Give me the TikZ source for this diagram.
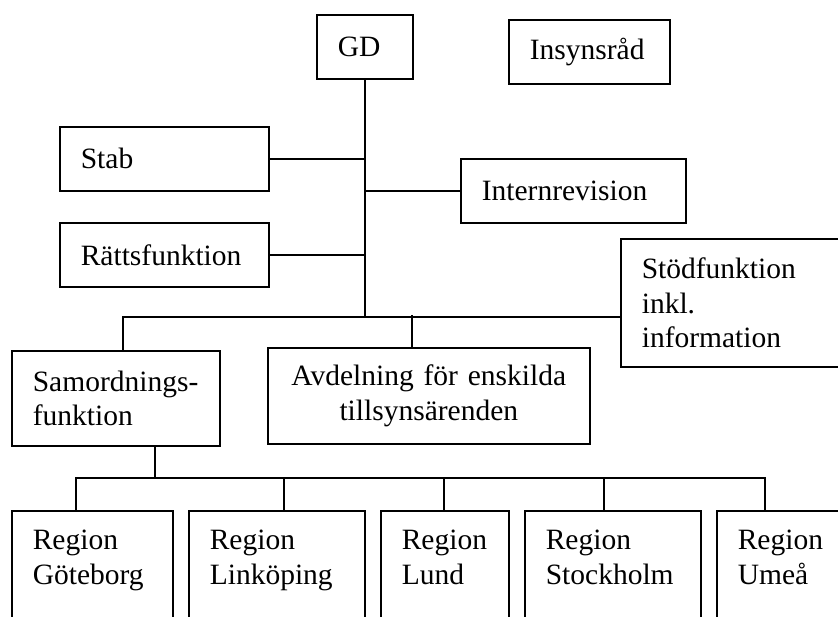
\documentclass[tikz,border=0pt]{standalone}
\usepackage{fontspec}
\setmainfont{Liberation Serif}
\hyphenpenalty=10000
\exhyphenpenalty=10000
\begin{document}
\begin{tikzpicture}[x=1pt,y=-1pt,
  orgbox/.style={draw, line width=1.6pt, rectangle, anchor=north west,
    inner xsep=21pt, inner ysep=0pt, align=left,
    font=\fontsize{29.5}{34.5}\selectfont},
  regbox/.style={orgbox, inner ysep=18pt, text height=21pt, text depth=100pt},
  conn/.style={line width=1.6pt}]
\useasboundingbox (0,0) rectangle (838,617);
\fill[white] (0,0) rectangle (838,617);
\clip (0,0) rectangle (838,617);

\node[orgbox, minimum height=64pt, text width=54pt]  (GD)     at (316,14)  {GD};
\node[orgbox, minimum height=64pt, text width=119pt] (Insyn)  at (508,19)  {Insynsråd};
\node[orgbox, minimum height=64pt, text width=167pt] (Stab)   at (59,126)  {Stab};
\node[orgbox, minimum height=64pt, text width=167pt] (Ratt)   at (59,222)  {Rättsfunktion};
\node[orgbox, minimum height=64pt, text width=183pt] (Intern) at (460,158) {Internrevision};
\node[orgbox, minimum height=128pt, text width=198pt] (Stod)  at (620,238) {Stödfunktion\\inkl.\\information};
\node[orgbox, minimum height=95pt, text width=166pt] (Samord) at (11,350)  {Samordnings-\\funktion};
\node[orgbox, minimum height=96pt, text width=280pt, align=center] (Avd) at (267,347) {Avdelning för enskilda\\tillsynsärenden};

\node[regbox, text width=119pt] (Gbg) at (11,510)  {Region\\Göteborg};
\node[regbox, text width=134pt] (Lkp) at (188,510) {Region\\Linköping};
\node[regbox, text width=86pt]  (Lnd) at (380,510) {Region\\Lund};
\node[regbox, text width=134pt] (Sth) at (524,510) {Region\\Stockholm};
\node[regbox, text width=134pt] (Ume) at (716,510) {Region\\Umeå};

\coordinate (sj) at (123,317);
\coordinate (aj) at (412,315);
\coordinate (sd) at (155,478);
\coordinate (rl) at (76,478);
\coordinate (r2) at (284,478);
\coordinate (r3) at (444,478);
\coordinate (r4) at (604,478);
\coordinate (rr) at (765,478);

\draw[conn] (GD.south) -- (GD.south |- sj);
\draw[conn] (Stab.east) -- (Stab.east -| GD.south);
\draw[conn] (Ratt.east) -- (Ratt.east -| GD.south);
\draw[conn] (Intern.west) -- (Intern.west -| GD.south);
\draw[conn] (sj |- Samord.north) -- (sj) -- (sj -| Stod.west);
\draw[conn] (aj) -- (aj |- Avd.north);
\draw[conn] (sd |- Samord.south) -- (sd);
\draw[conn] (rl |- Gbg.north) -- (rl) -- (rr) -- (rr |- Ume.north);
\draw[conn] (r2) -- (r2 |- Lkp.north);
\draw[conn] (r3) -- (r3 |- Lnd.north);
\draw[conn] (r4) -- (r4 |- Sth.north);
\end{tikzpicture}
\end{document}
